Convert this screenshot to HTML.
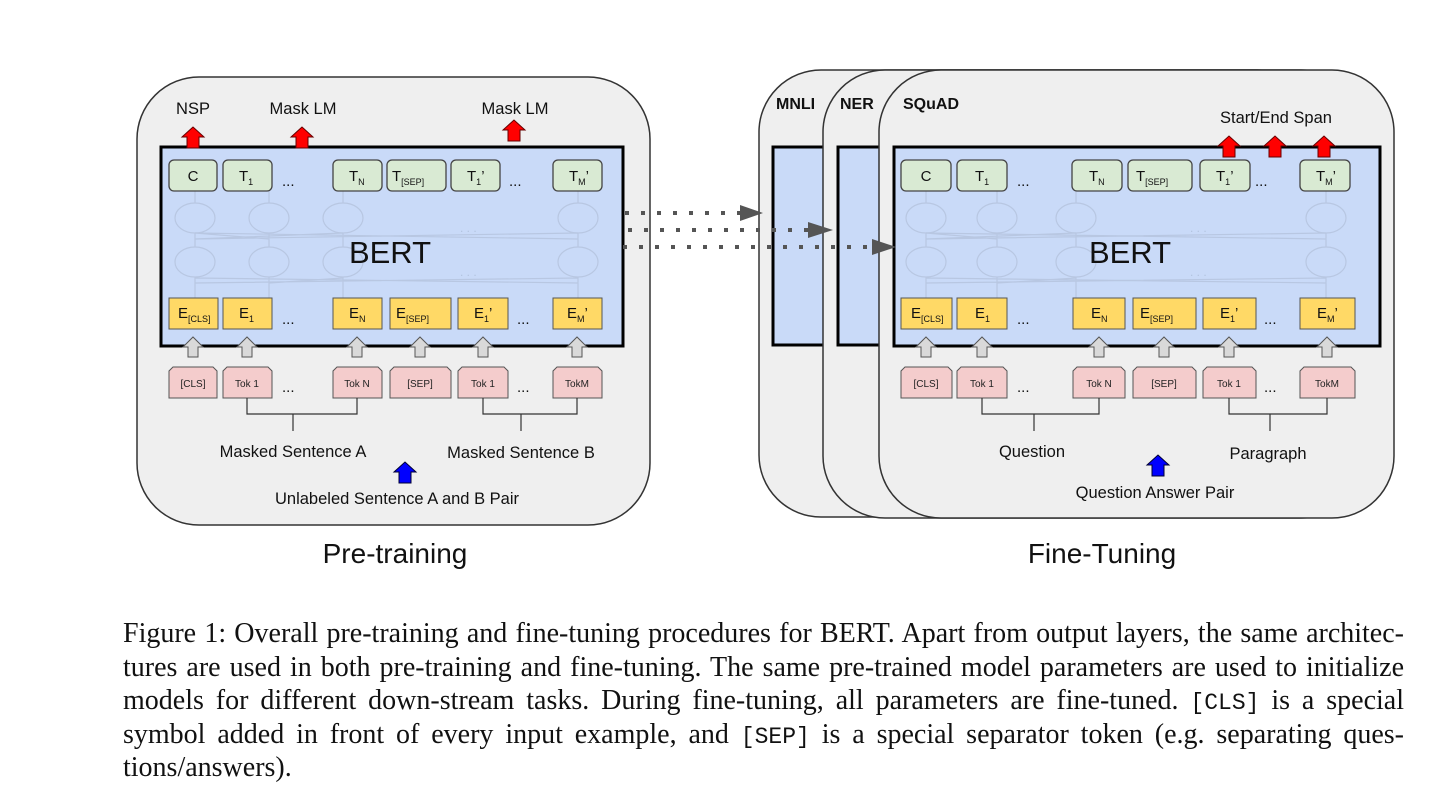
<!DOCTYPE html>
<html><head><meta charset="utf-8"><style>
html,body{margin:0;padding:0;background:#fff;}
body{width:1456px;height:804px;position:relative;overflow:hidden;font-family:"Liberation Sans",sans-serif;}
svg{position:absolute;left:0;top:0;}
.cap{position:absolute;left:123px;width:1281px;font-family:"Liberation Serif",serif;font-size:28px;line-height:33.5px;color:#111;}
.cap div{text-align:justify;text-align-last:justify;white-space:nowrap;height:33.5px;overflow:visible;}
.cap div.last{text-align-last:left;}
.m{font-family:"Liberation Mono",monospace;font-size:23px;line-height:20px;}
</style></head><body>
<svg width="1456" height="804" viewBox="0 0 1456 804" font-family="Liberation Sans, sans-serif">
<defs>
<path id="ga" d="M-10 10 L0 0 L10 10 L5 10 L5 20 L-5 20 L-5 10 Z" fill="#d9d9d9" stroke="#555" stroke-width="1"/>
<path id="ra" d="M-11 10 L0 0 L11 10 L6 10 L6 21 L-6 21 L-6 10 Z" fill="#ff0000" stroke="#600" stroke-width="1"/>
<path id="ba" d="M-11 10 L0 0 L11 10 L6 10 L6 21 L-6 21 L-6 10 Z" fill="#0000ff" stroke="#003" stroke-width="1"/>
</defs>

<rect x="137" y="77" width="513" height="448" rx="62" fill="#efefef" stroke="#333" stroke-width="1.5"/>
<rect x="161" y="147" width="462" height="199" fill="#c9daf8" stroke="#000" stroke-width="3"/>
<g fill="none" stroke="#b8c7e2" stroke-width="1.2">
<ellipse cx="195" cy="218" rx="20" ry="15"/><ellipse cx="269" cy="218" rx="20" ry="15"/><ellipse cx="343" cy="218" rx="20" ry="15"/><ellipse cx="578" cy="218" rx="20" ry="15"/>
<ellipse cx="195" cy="262" rx="20" ry="15"/><ellipse cx="269" cy="262" rx="20" ry="15"/><ellipse cx="343" cy="262" rx="20" ry="15"/><ellipse cx="578" cy="262" rx="20" ry="15"/>
<path d="M195 239 L578 233 M195 233 L578 239 M269 239 L195 233 M343 233 L195 239 M195 283 L578 278 M195 278 L578 283 M269 283 L343 278 M195 191 V203 M269 191 V203 M343 191 V203 M578 191 V203 M195 233 V247 M269 233 V247 M343 233 V247 M578 233 V247 M195 277 V298 M269 277 V298 M343 277 V298 M578 277 V298"/>
</g>
<text x="460" y="232" fill="#b3c3de" font-size="12">. . .</text>
<text x="460" y="276" fill="#b3c3de" font-size="12">. . .</text>
<text x="390" y="263" text-anchor="middle" font-size="31" fill="#111">BERT</text>
<g fill="#d9ead3" stroke="#444" stroke-width="1.3">
<rect x="169" y="160" width="48" height="31" rx="5"/><rect x="223" y="160" width="49" height="31" rx="5"/><rect x="333" y="160" width="49" height="31" rx="5"/><rect x="387" y="160" width="59" height="31" rx="5"/><rect x="451" y="160" width="49" height="31" rx="5"/><rect x="553" y="160" width="49" height="31" rx="5"/>
</g>
<g font-size="15" fill="#111">
<text x="193" y="181" text-anchor="middle">C</text>
<text x="239" y="181">T<tspan font-size="9" dy="4">1</tspan></text>
<text x="349" y="181">T<tspan font-size="9" dy="4">N</tspan></text>
<text x="392" y="181">T<tspan font-size="9" dy="4">[SEP]</tspan></text>
<text x="467" y="181">T<tspan font-size="9" dy="4">1</tspan><tspan dy="-4">’</tspan></text>
<text x="569" y="181">T<tspan font-size="9" dy="4">M</tspan><tspan dy="-4">’</tspan></text>
<text x="282" y="186">...</text><text x="509" y="186">...</text>
</g>
<g fill="#ffd966" stroke="#555" stroke-width="1">
<rect x="169" y="298" width="49" height="31"/><rect x="223" y="298" width="49" height="31"/><rect x="333" y="298" width="49" height="31"/><rect x="390" y="298" width="61" height="31"/><rect x="458" y="298" width="50" height="31"/><rect x="553" y="298" width="49" height="31"/>
</g>
<g font-size="15" fill="#111">
<text x="178" y="318">E<tspan font-size="9" dy="4">[CLS]</tspan></text>
<text x="239" y="318">E<tspan font-size="9" dy="4">1</tspan></text>
<text x="349" y="318">E<tspan font-size="9" dy="4">N</tspan></text>
<text x="396" y="318">E<tspan font-size="9" dy="4">[SEP]</tspan></text>
<text x="474" y="318">E<tspan font-size="9" dy="4">1</tspan><tspan dy="-4">’</tspan></text>
<text x="567" y="318">E<tspan font-size="9" dy="4">M</tspan><tspan dy="-4">’</tspan></text>
<text x="282" y="324">...</text><text x="517" y="324">...</text>
</g>
<g><use href="#ga" x="193" y="337"/><use href="#ga" x="247" y="337"/><use href="#ga" x="357" y="337"/><use href="#ga" x="420" y="337"/><use href="#ga" x="483" y="337"/><use href="#ga" x="577" y="337"/></g>
<g fill="#f4cccc" stroke="#555" stroke-width="1">
<path d="M173 367 H213 L217 371 V398 H169 V371 Z"/>
<path d="M227 367 H268 L272 371 V398 H223 V371 Z"/>
<path d="M337 367 H378 L382 371 V398 H333 V371 Z"/>
<path d="M394 367 H447 L451 371 V398 H390 V371 Z"/>
<path d="M462 367 H504 L508 371 V398 H458 V371 Z"/>
<path d="M557 367 H598 L602 371 V398 H553 V371 Z"/>
</g>
<g font-size="10" fill="#222" text-anchor="middle">
<text x="193" y="387">[CLS]</text><text x="247" y="387">Tok 1</text><text x="357" y="387">Tok N</text><text x="420" y="387">[SEP]</text><text x="483" y="387">Tok 1</text><text x="577" y="387">TokM</text>
</g>
<g font-size="15" fill="#111"><text x="282" y="392">...</text><text x="517" y="392">...</text></g>
<path d="M247 398 V414 H357 V398 M293 414 V431 M483 398 V414 H577 V398 M521 414 V431" fill="none" stroke="#333" stroke-width="1.2"/>
<g font-size="16.5" fill="#111" text-anchor="middle">
<text x="293" y="457">Masked Sentence A</text>
<text x="521" y="458">Masked Sentence B</text>
<text x="397" y="504">Unlabeled Sentence A and B Pair</text>
<text x="193" y="114">NSP</text>
<text x="303" y="114">Mask LM</text>
<text x="515" y="114">Mask LM</text>
</g>
<use href="#ba" x="405" y="462"/>
<use href="#ra" x="193" y="127"/><use href="#ra" x="302" y="127"/><use href="#ra" x="514" y="120"/>

<rect x="759" y="70" width="560" height="447" rx="62" fill="#efefef" stroke="#333" stroke-width="1.5"/>
<rect x="773" y="147" width="300" height="198" fill="#c9daf8" stroke="#000" stroke-width="3"/>
<text x="776" y="109" font-size="16" font-weight="bold" fill="#111">MNLI</text>
<rect x="823" y="70" width="540" height="448" rx="62" fill="#efefef" stroke="#333" stroke-width="1.5"/>
<rect x="838" y="147" width="300" height="198" fill="#c9daf8" stroke="#000" stroke-width="3"/>
<text x="840" y="109" font-size="16" font-weight="bold" fill="#111">NER</text>
<rect x="879" y="70" width="515" height="448" rx="62" fill="#efefef" stroke="#333" stroke-width="1.5"/>
<rect x="894" y="147" width="486" height="199" fill="#c9daf8" stroke="#000" stroke-width="3"/>
<text x="903" y="109" font-size="16" font-weight="bold" fill="#111">SQuAD</text>
<g fill="none" stroke="#b8c7e2" stroke-width="1.2">
<ellipse cx="926" cy="218" rx="20" ry="15"/><ellipse cx="997" cy="218" rx="20" ry="15"/><ellipse cx="1076" cy="218" rx="20" ry="15"/><ellipse cx="1326" cy="218" rx="20" ry="15"/>
<ellipse cx="926" cy="262" rx="20" ry="15"/><ellipse cx="997" cy="262" rx="20" ry="15"/><ellipse cx="1076" cy="262" rx="20" ry="15"/><ellipse cx="1326" cy="262" rx="20" ry="15"/>
<path d="M926 239 L1326 233 M926 233 L1326 239 M997 239 L926 233 M1076 233 L926 239 M926 283 L1326 278 M926 278 L1326 283 M997 283 L1076 278 M926 191 V203 M997 191 V203 M1076 191 V203 M1326 191 V203 M926 233 V247 M997 233 V247 M1076 233 V247 M1326 233 V247 M926 277 V298 M997 277 V298 M1076 277 V298 M1326 277 V298"/>
</g>
<text x="1190" y="232" fill="#b3c3de" font-size="12">. . .</text>
<text x="1190" y="276" fill="#b3c3de" font-size="12">. . .</text>
<text x="1130" y="263" text-anchor="middle" font-size="31" fill="#111">BERT</text>
<g fill="#d9ead3" stroke="#444" stroke-width="1.3">
<rect x="901" y="160" width="50" height="31" rx="5"/><rect x="957" y="160" width="50" height="31" rx="5"/><rect x="1072" y="160" width="50" height="31" rx="5"/><rect x="1128" y="160" width="64" height="31" rx="5"/><rect x="1200" y="160" width="50" height="31" rx="5"/><rect x="1300" y="160" width="50" height="31" rx="5"/>
</g>
<g font-size="15" fill="#111">
<text x="926" y="181" text-anchor="middle">C</text>
<text x="975" y="181">T<tspan font-size="9" dy="4">1</tspan></text>
<text x="1089" y="181">T<tspan font-size="9" dy="4">N</tspan></text>
<text x="1136" y="181">T<tspan font-size="9" dy="4">[SEP]</tspan></text>
<text x="1216" y="181">T<tspan font-size="9" dy="4">1</tspan><tspan dy="-4">’</tspan></text>
<text x="1316" y="181">T<tspan font-size="9" dy="4">M</tspan><tspan dy="-4">’</tspan></text>
<text x="1017" y="186">...</text><text x="1255" y="186">...</text>
</g>
<g fill="#ffd966" stroke="#555" stroke-width="1">
<rect x="901" y="298" width="51" height="31"/><rect x="957" y="298" width="50" height="31"/><rect x="1073" y="298" width="52" height="31"/><rect x="1133" y="298" width="63" height="31"/><rect x="1203" y="298" width="53" height="31"/><rect x="1300" y="298" width="55" height="31"/>
</g>
<g font-size="15" fill="#111">
<text x="911" y="318">E<tspan font-size="9" dy="4">[CLS]</tspan></text>
<text x="975" y="318">E<tspan font-size="9" dy="4">1</tspan></text>
<text x="1091" y="318">E<tspan font-size="9" dy="4">N</tspan></text>
<text x="1140" y="318">E<tspan font-size="9" dy="4">[SEP]</tspan></text>
<text x="1220" y="318">E<tspan font-size="9" dy="4">1</tspan><tspan dy="-4">’</tspan></text>
<text x="1317" y="318">E<tspan font-size="9" dy="4">M</tspan><tspan dy="-4">’</tspan></text>
<text x="1017" y="324">...</text><text x="1264" y="324">...</text>
</g>
<g><use href="#ga" x="926" y="337"/><use href="#ga" x="982" y="337"/><use href="#ga" x="1099" y="337"/><use href="#ga" x="1164" y="337"/><use href="#ga" x="1229" y="337"/><use href="#ga" x="1327" y="337"/></g>
<g fill="#f4cccc" stroke="#555" stroke-width="1">
<path d="M905 367 H948 L952 371 V398 H901 V371 Z"/>
<path d="M961 367 H1003 L1007 371 V398 H957 V371 Z"/>
<path d="M1077 367 H1121 L1125 371 V398 H1073 V371 Z"/>
<path d="M1137 367 H1192 L1196 371 V398 H1133 V371 Z"/>
<path d="M1207 367 H1252 L1256 371 V398 H1203 V371 Z"/>
<path d="M1304 367 H1351 L1355 371 V398 H1300 V371 Z"/>
</g>
<g font-size="10" fill="#222" text-anchor="middle">
<text x="926" y="387">[CLS]</text><text x="982" y="387">Tok 1</text><text x="1099" y="387">Tok N</text><text x="1164" y="387">[SEP]</text><text x="1229" y="387">Tok 1</text><text x="1327" y="387">TokM</text>
</g>
<g font-size="15" fill="#111"><text x="1017" y="392">...</text><text x="1264" y="392">...</text></g>
<path d="M982 398 V414 H1099 V398 M1034 414 V431 M1229 398 V414 H1327 V398 M1270 414 V431" fill="none" stroke="#333" stroke-width="1.2"/>
<g font-size="16.5" fill="#111" text-anchor="middle">
<text x="1032" y="457">Question</text>
<text x="1268" y="459">Paragraph</text>
<text x="1155" y="498">Question Answer Pair</text>
<text x="1276" y="123">Start/End Span</text>
</g>
<use href="#ba" x="1158" y="455"/>
<use href="#ra" x="1229" y="136"/><use href="#ra" x="1275" y="136"/><use href="#ra" x="1324" y="136"/>

<g stroke="#555" stroke-width="4" stroke-dasharray="4 12" fill="none">
<path d="M625 213 H740"/><path d="M628 230 H808"/><path d="M623 247 H872"/>
</g>
<g fill="#555">
<path d="M740 205 L763 213 L740 221 Z"/><path d="M808 222 L833 230 L808 238 Z"/><path d="M872 239 L896 247 L872 255 Z"/>
</g>

<text x="395" y="563" text-anchor="middle" font-size="28" fill="#111">Pre-training</text>
<text x="1102" y="563" text-anchor="middle" font-size="28" fill="#111">Fine-Tuning</text>
</svg>
<div class="cap" style="top:617px">
<div>Figure 1: Overall pre-training and fine-tuning procedures for BERT. Apart from output layers, the same architec-</div>
<div>tures are used in both pre-training and fine-tuning. The same pre-trained model parameters are used to initialize</div>
<div>models for different down-stream tasks. During fine-tuning, all parameters are fine-tuned. <span class="m">[CLS]</span> is a special</div>
<div>symbol added in front of every input example, and <span class="m">[SEP]</span> is a special separator token (e.g. separating ques-</div>
<div class="last">tions/answers).</div>
</div>
</body></html>
